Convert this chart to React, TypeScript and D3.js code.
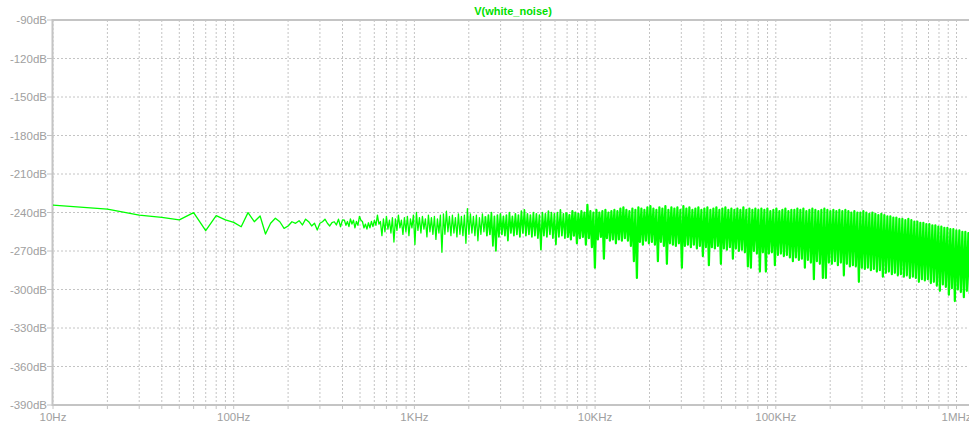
import React from "react";
import * as d3 from "d3";

// ---- data ----
const title = "V(white_noise)";
const binResolutionHz = 10;
// FFT bins 10 Hz .. 400 Hz (dB)
const lowBinDb = [
  -234.2, -237.3, -242.0, -243.8, -245.8, -240.1, -254.2, -242.5, -245.8, -247.7,
  -251.1, -240.1, -247.2, -242.7, -256.8, -248.4, -244.5, -247.2, -252.4, -250.5,
  -247.2, -248.4, -246.4, -249.7, -245.2, -247.2, -250.5, -248.4, -253.6, -248.4,
  -247.2, -245.2, -248.4, -250.5, -247.9, -247.2, -249.7, -245.2, -251.1, -245.8,
];
// dense part: alternating peak / trough readings on a log grid from 410 Hz
const bandStartHz = 410;
const bandStepDecades = 0.0083;
const bandDb = [
  -246, -250, -247, -251, -245, -249, -246, -252, -247, -250, -243, -246, -247, -252, -249, -253, -248, -252, -247, -251,
  -246, -250, -242, -249, -247, -258, -245, -255, -243, -253, -246, -256, -244, -263, -245, -254, -242, -252, -246, -257,
  -244, -255, -243, -258, -245, -252, -242, -265, -240, -254, -244, -256, -243, -253, -245, -259, -242, -255, -244, -257,
  -243, -261, -245, -256, -242, -271, -241, -257, -239, -255, -243, -258, -242, -256, -244, -259, -241, -257, -243, -258,
  -242, -264, -237, -257, -241, -256, -243, -258, -242, -262, -244, -257, -241, -255, -243, -258, -242, -257, -240, -266,
  -243, -270, -242, -259, -241, -257, -243, -258, -242, -262, -240, -256, -243, -258, -241, -257, -242, -259, -239, -256,
  -238, -258, -241, -257, -242, -259, -240, -258, -241, -260, -242, -269, -240, -258, -241, -259, -239, -257, -240, -260,
  -241, -265, -240, -259, -238, -258, -241, -260, -240, -259, -242, -261, -239, -258, -240, -264, -241, -260, -239, -259,
  -240, -265, -234, -260, -239, -267, -240, -283, -238, -261, -240, -259, -239, -276, -238, -260, -240, -262, -239, -261,
  -238, -264, -239, -261, -237, -262, -236, -260, -238, -262, -239, -266, -237, -278, -238, -291, -236, -263, -237, -265,
  -238, -262, -236, -264, -235, -263, -237, -265, -238, -278, -236, -263, -237, -266, -235, -280, -238, -264, -236, -265,
  -237, -266, -236, -264, -238, -283, -235, -266, -237, -265, -236, -267, -238, -265, -237, -268, -236, -266, -238, -274,
  -237, -267, -236, -281, -238, -267, -237, -268, -236, -266, -238, -280, -237, -268, -236, -269, -238, -267, -237, -276,
  -238, -268, -237, -270, -238, -269, -236, -271, -238, -282, -237, -283, -238, -270, -237, -272, -238, -286, -237, -271,
  -238, -286, -237, -272, -239, -271, -238, -281, -237, -273, -239, -272, -238, -274, -237, -273, -239, -275, -238, -278,
  -238, -275, -237, -277, -238, -276, -237, -283, -239, -277, -238, -279, -237, -292, -238, -278, -239, -280, -238, -291,
  -237, -291, -238, -279, -239, -280, -238, -278, -239, -281, -238, -279, -239, -289, -238, -280, -239, -282, -240, -281,
  -239, -282, -240, -294, -240, -283, -239, -284, -240, -283, -241, -285, -240, -284, -241, -286, -242, -285, -241, -290,
  -242, -287, -243, -286, -243, -288, -244, -287, -244, -289, -245, -288, -245, -290, -246, -289, -245, -291, -246, -290,
  -247, -291, -247, -294, -248, -292, -248, -293, -249, -292, -249, -295, -250, -294, -250, -297, -251, -301, -251, -296,
  -252, -298, -252, -304, -253, -299, -253, -309, -254, -300, -254, -302, -255, -306, -255, -301, -256, -303, -256, -302,
];
const xDomainHz = [10, 1e6];
const xTickHz = [10, 100, 1e3, 1e4, 1e5, 1e6];
const xTickLabels = ["10Hz", "100Hz", "1KHz", "10KHz", "100KHz", "1MHz"];
const yTicksDb = [-90, -120, -150, -180, -210, -240, -270, -300, -330, -360, -390];
// trace density bands (Hz) drawn with increasing stroke weight
const densityEdgesHz = [0, 2500, 7000, 1e9];
const densityStroke = [1.3, 1.7, 2.2];

// ---- layout ----
const W = 969;
const H = 423;
const left = 53;
const top = 20;
const bottom = 405;
const right = 969;

export default function App() {
  const x = d3.scaleLog().domain(xDomainHz).range([53, 956.5]);
  const y = d3.scaleLinear().domain([-390, -90]).range([bottom, top]);

  const pts: [number, number][] = [];
  lowBinDb.forEach((v, i) => pts.push([(i + 1) * binResolutionHz, v]));
  bandDb.forEach((v, j) => pts.push([bandStartHz * Math.pow(10, j * bandStepDecades), v]));

  const line = d3
    .line<[number, number]>()
    .x((d) => x(d[0]))
    .y((d) => y(d[1]));

  const segments = densityStroke.map((sw, k) => {
    const lo = densityEdgesHz[k];
    const hi = densityEdgesHz[k + 1];
    const idx = pts.map((p, i) => (p[0] >= lo && p[0] < hi ? i : -1)).filter((i) => i >= 0);
    if (!idx.length) return { sw, d: "" };
    const from = Math.max(0, idx[0] - 1);
    const to = idx[idx.length - 1] + 1;
    return { sw, d: line(pts.slice(from, to)) || "" };
  });

  const maxHz = x.invert(right);
  const gridHz: number[] = [];
  for (let dec = 10; dec <= 1e6; dec *= 10) {
    for (let m = 1; m <= 9; m++) {
      const f = dec * m;
      if (f <= maxHz) gridHz.push(f);
    }
  }

  const gridColor = "#c4c4c4";
  const textColor = "#a0a0a0";
  const font = "'Liberation Sans', Arial, sans-serif";

  return (
    <svg width={W} height={H} style={{ display: "block", position: "absolute", left: 0, top: 0, background: "#fff" }}>
      <defs>
        <clipPath id="plot">
          <rect x={left} y={top} width={right - left} height={bottom - top} />
        </clipPath>
      </defs>
      {gridHz.map((f, i) => (
        <g key={"g" + i}>
          <line x1={x(f)} x2={x(f)} y1={top} y2={bottom} stroke={gridColor} strokeWidth={1} strokeDasharray="2,2" />
          <line x1={x(f)} x2={x(f)} y1={bottom} y2={bottom + 4} stroke={gridColor} strokeWidth={1} />
        </g>
      ))}
      {yTicksDb.map((v) => (
        <g key={"y" + v}>
          <line x1={left} x2={right} y1={y(v)} y2={y(v)} stroke={gridColor} strokeWidth={1} strokeDasharray="2,2" />
          <line x1={left - 6} x2={left} y1={y(v)} y2={y(v)} stroke={gridColor} strokeWidth={1} />
          <text x={left - 6} y={y(v) + 4} textAnchor="end" fontFamily={font} fontSize={11.5} fill={textColor}>
            {v}dB
          </text>
        </g>
      ))}
      <line x1={left - 0.5} x2={left - 0.5} y1={top - 1} y2={bottom + 1} stroke={gridColor} strokeWidth={2} />
      <line x1={left - 1} x2={right} y1={bottom} y2={bottom} stroke={gridColor} strokeWidth={2} />
      <line x1={left - 1} x2={right} y1={top} y2={top} stroke={gridColor} strokeWidth={2} />
      {xTickHz.map((f, i) => (
        <text key={"xl" + i} x={x(f)} y={bottom + 16} textAnchor="middle" fontFamily={font} fontSize={11.5} fill={textColor}>
          {xTickLabels[i]}
        </text>
      ))}
      <g clipPath="url(#plot)">
        {segments.map((s, k) => (
          <path key={"t" + k} d={s.d} fill="none" stroke="#00ff00" strokeWidth={s.sw} strokeLinejoin="round" />
        ))}
      </g>
      <text x={513} y={15} textAnchor="middle" fontFamily={font} fontSize={11} fontWeight="bold" fill="#00e000">
        {title}
      </text>
    </svg>
  );
}
